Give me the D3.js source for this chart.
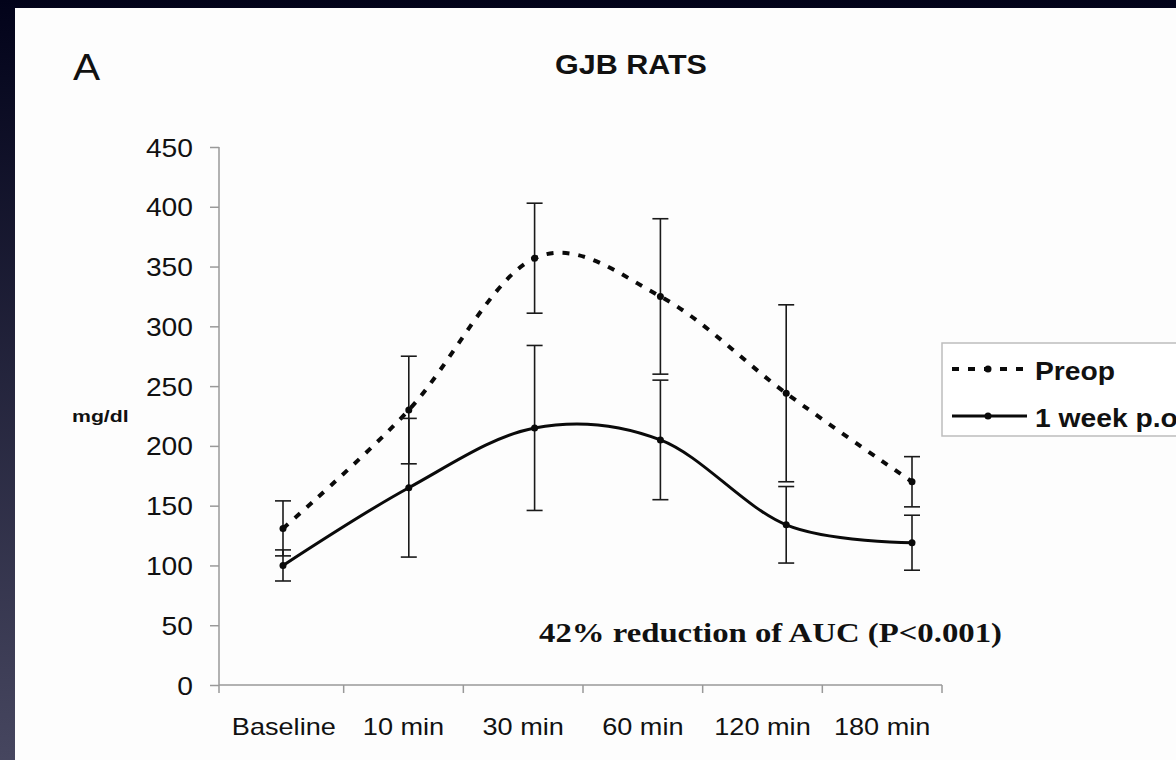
<!DOCTYPE html>
<meta charset="utf-8" />
<style>
  body { margin: 0; background: #000; }
  svg { display: block; }
</style>
<svg width="1176" height="760"></svg>
<script src="https://d3js.org/d3.v7.min.js"></script>
<script>
  // values (mg/dl, mean and SD)
  var categories = ["Baseline", "10 min", "30 min", "60 min", "120 min", "180 min"];
  var preopMean = [131, 230, 357, 325, 244, 170];
  var preopSd = [23, 45, 46, 65, 74, 21];
  var weekMean = [100, 165, 215, 205, 134, 119];
  var weekSd = [13, 58, 69, 50, 32, 23];
  var yTicks = [0, 50, 100, 150, 200, 250, 300, 350, 400, 450];
  var seriesNames = ["Preop", "1 week p.o."];

  var svg = d3.select("svg");
  var width = +svg.attr("width");
  var height = +svg.attr("height");
  var SX = 1.13; // the scanned figure is a bit wide, so text is stretched too

  // dark slide backdrop + white page
  var grad = svg.append("defs").append("linearGradient")
    .attr("id", "bg").attr("x1", 0).attr("y1", 0).attr("x2", 0).attr("y2", 1);
  grad.append("stop").attr("offset", "0%").attr("stop-color", "#02031a");
  grad.append("stop").attr("offset", "100%").attr("stop-color", "#46465f");
  svg.append("rect").attr("width", width).attr("height", height).attr("fill", "url(#bg)");
  svg.append("rect").attr("x", 15).attr("y", 8)
    .attr("width", width - 15).attr("height", height - 8).attr("fill", "#fdfdfd");

  function label(px, py, str, size, opts) {
    opts = opts || {};
    return svg.append("text")
      .attr("transform", "translate(" + px + "," + py + ") scale(" + (opts.sx || SX) + ",1)")
      .attr("font-family", opts.family || "Arial, 'Liberation Sans', sans-serif")
      .attr("font-size", size)
      .attr("font-weight", opts.weight || "normal")
      .attr("text-anchor", opts.anchor || "start")
      .attr("fill", "#111")
      .text(str);
  }

  var x = d3.scaleBand().domain(categories).range([224, 942]);
  var xp = d3.scalePoint().domain(categories).range([283, 912]);
  var y = d3.scaleLinear().domain([0, 450]).range([685, 147]);

  // y axis
  var yAxis = svg.append("g").attr("transform", "translate(219,0)")
    .call(d3.axisLeft(y).tickValues(yTicks).tickSize(9).tickSizeOuter(0));
  yAxis.select(".domain").attr("stroke", "#999").attr("stroke-width", 1.5)
    .attr("d", "M0," + y(450) + "V" + (y(0) + 8));
  yAxis.selectAll(".tick line").attr("stroke", "#999").attr("stroke-width", 1.5);
  yAxis.selectAll(".tick text")
    .attr("x", -23).attr("dy", "0.36em")
    .attr("transform", "scale(" + SX + ",1)")
    .attr("font-size", 25).attr("fill", "#111")
    .attr("font-family", "Arial, 'Liberation Sans', sans-serif");

  // x axis: labels at band centres, ticks at band edges
  var xAxis = svg.append("g").attr("transform", "translate(0," + y(0) + ")")
    .call(d3.axisBottom(x).tickSize(0).tickSizeOuter(0));
  xAxis.select(".domain").attr("stroke", "#999").attr("stroke-width", 1.5)
    .attr("d", "M219,0H" + x.range()[1]);
  xAxis.selectAll(".tick text")
    .attr("y", 0).attr("dy", 0)
    .attr("transform", "translate(0,50) scale(" + SX + ",1)")
    .attr("font-size", 24).attr("fill", "#111")
    .attr("font-family", "Arial, 'Liberation Sans', sans-serif");
  xAxis.selectAll(".edge").data(categories).enter().append("line")
    .attr("class", "edge")
    .attr("x1", function(d) { return x(d) + x.bandwidth(); })
    .attr("x2", function(d) { return x(d) + x.bandwidth(); })
    .attr("y1", 0).attr("y2", 8)
    .attr("stroke", "#999").attr("stroke-width", 1.5);

  // titles
  label(73, 80, "A", 36);
  label(631, 74, "GJB RATS", 27, { weight: "bold", anchor: "middle" });
  label(72, 422, "mg/dl", 17, { weight: "bold", sx: 1.25 });
  label(539, 642, "42% reduction of AUC (P<0.001)", 28,
    { weight: "bold", family: "'Liberation Serif', 'Times New Roman', serif", sx: 1.17 });

  var series = [
    { name: seriesNames[0], mean: preopMean, sd: preopSd, dash: "7,9", width: 4 },
    { name: seriesNames[1], mean: weekMean, sd: weekSd, dash: null, width: 3 }
  ];

  var line = d3.line()
    .x(function(d, i) { return xp(categories[i]); })
    .y(function(d) { return y(d); })
    .curve(d3.curveCardinal.tension(0));

  series.forEach(function(s) {
    var g = svg.append("g");
    var bars = g.selectAll(".err").data(s.mean).enter().append("g").attr("class", "err")
      .attr("stroke", "#1a1a1a").attr("stroke-width", 1.6);
    bars.append("line")
      .attr("x1", function(d, i) { return xp(categories[i]); })
      .attr("x2", function(d, i) { return xp(categories[i]); })
      .attr("y1", function(d, i) { return y(d + s.sd[i]); })
      .attr("y2", function(d, i) { return y(d - s.sd[i]); });
    [1, -1].forEach(function(sign) {
      bars.append("line")
        .attr("x1", function(d, i) { return xp(categories[i]) - 8; })
        .attr("x2", function(d, i) { return xp(categories[i]) + 8; })
        .attr("y1", function(d, i) { return y(d + sign * s.sd[i]); })
        .attr("y2", function(d, i) { return y(d + sign * s.sd[i]); });
    });

    g.append("path").datum(s.mean)
      .attr("d", line)
      .attr("fill", "none")
      .attr("stroke", "#0a0a0a")
      .attr("stroke-width", s.width)
      .attr("stroke-dasharray", s.dash);

    g.selectAll("circle").data(s.mean).enter().append("circle")
      .attr("cx", function(d, i) { return xp(categories[i]); })
      .attr("cy", function(d) { return y(d); })
      .attr("r", 3.5)
      .attr("fill", "#0a0a0a");
  });

  // legend (runs off the right edge, as in the source slide)
  var lg = svg.append("g");
  lg.append("rect").attr("x", 942).attr("y", 343).attr("width", 260).attr("height", 93)
    .attr("fill", "#fff").attr("stroke", "#bdbdbd").attr("stroke-width", 1.5);
  series.forEach(function(s, i) {
    var ly = 369 + i * 47;
    lg.append("line").attr("x1", 952).attr("x2", 1027).attr("y1", ly).attr("y2", ly)
      .attr("stroke", "#0a0a0a").attr("stroke-width", s.width)
      .attr("stroke-dasharray", s.dash);
    lg.append("circle").attr("cx", 988).attr("cy", ly).attr("r", 3.5).attr("fill", "#0a0a0a");
    label(1035, ly + 11, s.name, 25, { weight: "bold" });
  });
</script>
